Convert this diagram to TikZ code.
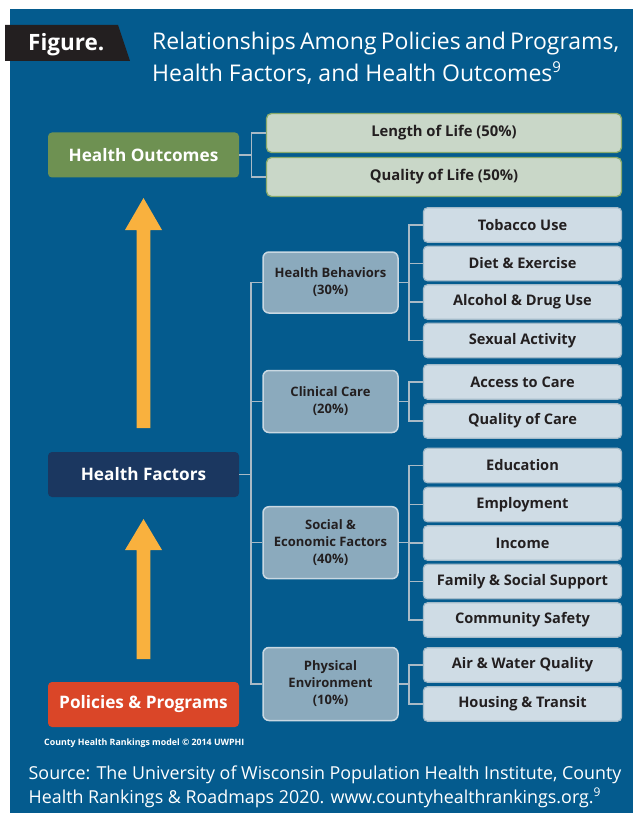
\documentclass[tikz,border=0pt]{standalone}
\usepackage{fontspec}
\setmainfont{Open Sans}
\usetikzlibrary{calc}
\definecolor{bgblue}{HTML}{045B8E}
\definecolor{banner}{HTML}{231F20}
\definecolor{hogreen}{HTML}{6E9152}
\definecolor{lgreen}{HTML}{C9D7C8}
\definecolor{lgreenb}{HTML}{8AAA6C}
\definecolor{navy}{HTML}{1B3760}
\definecolor{ppred}{HTML}{DA4628}
\definecolor{arrowc}{HTML}{F9B13E}
\definecolor{midfill}{HTML}{8BAABD}
\definecolor{midb}{HTML}{C9D8E2}
\definecolor{rfill}{HTML}{CFDCE5}
\definecolor{rb}{HTML}{A3BBCA}
\definecolor{connc}{HTML}{A9BAC6}
\definecolor{txt}{HTML}{231F20}
\tikzset{
  mainbox/.style={rounded corners=4pt, minimum width=191pt, minimum height=45pt, inner sep=0pt,
     text=white, font=\bfseries\fontsize{17.2}{20}\selectfont},
  outbox/.style={rounded corners=5pt, draw=lgreenb, line width=1.3pt, fill=lgreen, minimum width=355pt,
     minimum height=39pt, inner sep=0pt, text=txt, font=\bfseries\fontsize{14.8}{17}\selectfont},
  midbox/.style={rounded corners=6pt, draw=midb, line width=1.5pt, fill=midfill, minimum width=135pt,
     inner sep=0pt, align=center, text=txt, font=\bfseries\fontsize{13}{17}\selectfont},
  rbox/.style={rounded corners=4pt, draw=rb, line width=1.2pt, fill=rfill, minimum width=198pt,
     minimum height=34.5pt, inner sep=0pt, text=txt, font=\bfseries\fontsize{14.6}{17}\selectfont},
  conn/.style={draw=connc, line width=1.3pt},
  uparrow/.style={fill=arrowc},
  titletext/.style={anchor=base west, inner sep=0pt, text=white, font=\fontsize{23}{27}\selectfont}
}
\begin{document}
\begin{tikzpicture}[x=1pt,y=-1pt]
\useasboundingbox (0,0) rectangle (642,813);
\fill[white] (0,0) rectangle (642,813);
\fill[bgblue] (10,9) rectangle (633,813);
% banner
\fill[banner] (5,25) -- (118,25) -- (130,61) -- (5,61) -- cycle;
\node[anchor=base west, inner sep=0pt, text=white, font=\bfseries\fontsize{22.5}{26}\selectfont] (fig) at (28,50.5) {Figure.};
\node[titletext] (t1) at (152,50) {\spaceskip=4.2pt plus 1pt minus 1pt Relationships Among Policies and Programs,};
\node[titletext] (t2) at (152,82) {Health Factors, and Health Outcomes\textsuperscript{\fontsize{15}{15}\selectfont 9}};
% arrows
\fill[uparrow] (136.7,428) -- (136.7,230) -- (125,230) -- (143.5,198) -- (162,230) -- (150.3,230) -- (150.3,428) -- cycle;
\fill[uparrow] (136.7,659) -- (136.7,550) -- (125,550) -- (143.5,519) -- (162,550) -- (150.3,550) -- (150.3,659) -- cycle;
% main boxes
\node[mainbox, fill=hogreen] (ho) at (143.5,155) {Health Outcomes};
\node[mainbox, fill=navy] (hf) at (143.5,474.5) {Health Factors};
\node[mainbox, fill=ppred] (pp) at (143.5,704.5) {Policies \& Programs};
% outcomes
\node[outbox] (ll) at (444,133) {Length of Life (50\%)};
\node[outbox] (ql) at (444,177) {Quality of Life (50\%)};
% middle
\node[midbox, minimum height=61pt] (hb) at (330.5,282.5) {Health Behaviors\\(30\%)};
\node[midbox, minimum height=62pt] (cc) at (330.5,401.5) {Clinical Care\\(20\%)};
\node[midbox, minimum height=72pt] (se) at (330.5,542.7) {Social \&\\Economic Factors\\(40\%)};
\node[midbox, minimum height=73pt] (pe) at (330.5,684) {Physical\\Environment\\(10\%)};
% right
\node[rbox] (tu) at (522.5,225) {Tobacco Use};
\node[rbox] (de) at (522.5,263.5) {Diet \& Exercise};
\node[rbox] (ad) at (522.5,302) {Alcohol \& Drug Use};
\node[rbox] (sa) at (522.5,340.5) {Sexual Activity};
\node[rbox] (ac) at (522.5,382) {Access to Care};
\node[rbox] (qc) at (522.5,421) {Quality of Care};
\node[rbox] (ed) at (522.5,465.5) {Education};
\node[rbox] (em) at (522.5,504.5) {Employment};
\node[rbox] (in) at (522.5,543) {Income};
\node[rbox] (fs) at (522.5,581.5) {Family \& Social Support};
\node[rbox] (cs) at (522.5,620) {Community Safety};
\node[rbox] (aw) at (522.5,665) {Air \& Water Quality};
\node[rbox] (ht) at (522.5,704) {Housing \& Transit};
% junctions
\coordinate (hoj) at (251.5,155);
\coordinate (hfj) at (251,474.5);
\coordinate (hbj) at (409,282.5);
\coordinate (ccj) at (409,401.5);
\coordinate (sej) at (409,542.7);
\coordinate (pej) at (409,684);
% connectors
\draw[conn] (ho.east) -- (hoj);
\draw[conn] (ll.west) -| (hoj) |- (ql.west);
\draw[conn] (hf.east) -- (hfj);
\draw[conn] (hb.west) -| (hfj) |- (pe.west);
\draw[conn] (cc.west) -| (hfj);
\draw[conn] (se.west) -| (hfj);
\draw[conn] (hb.east) -- (hbj);
\draw[conn] (tu.west) -| (hbj) |- (sa.west);
\draw[conn] (de.west) -| (hbj);
\draw[conn] (ad.west) -| (hbj);
\draw[conn] (cc.east) -- (ccj);
\draw[conn] (ac.west) -| (ccj) |- (qc.west);
\draw[conn] (se.east) -- (sej);
\draw[conn] (ed.west) -| (sej) |- (cs.west);
\draw[conn] (em.west) -| (sej);
\draw[conn] (in.west) -| (sej);
\draw[conn] (fs.west) -| (sej);
\draw[conn] (pe.east) -- (pej);
\draw[conn] (aw.west) -| (pej) |- (ht.west);
% footer
\node[anchor=west, inner sep=0pt, text=white, font=\bfseries\fontsize{8.8}{10}\selectfont] (cr) at (44,743) {County Health Rankings model © 2014 UWPHI};
\node[anchor=base west, inner sep=0pt, text=white, align=left, font=\fontsize{17.85}{24}\selectfont] (src1) at (28.5,779) {Source: The University of Wisconsin Population Health Institute, County};
\node[anchor=base west, inner sep=0pt, text=white, align=left, font=\fontsize{17.85}{24}\selectfont] (src2) at (28.5,803) {Health Rankings \& Roadmaps 2020. www.countyhealthrankings.org.\textsuperscript{\fontsize{12}{12}\selectfont 9}};
\end{tikzpicture}
\end{document}
